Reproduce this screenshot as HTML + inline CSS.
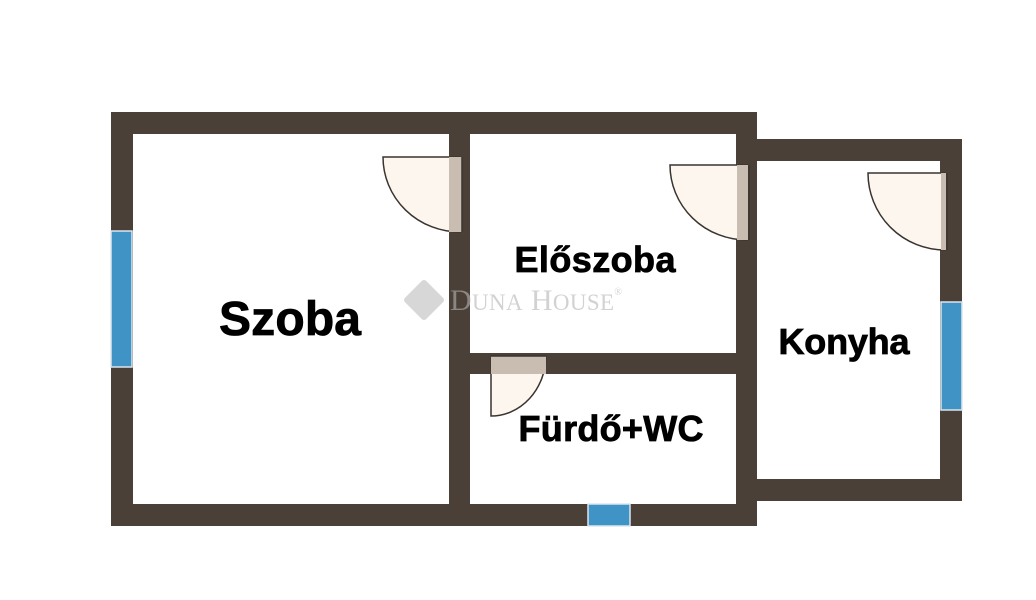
<!DOCTYPE html>
<html><head><meta charset="utf-8"><style>
html,body{margin:0;padding:0;background:#fff;width:1036px;height:600px;overflow:hidden}
svg{display:block}
.lbl{font-family:"Liberation Sans",sans-serif;font-weight:bold;fill:#000;stroke:#000;stroke-width:0.8}
</style></head><body>
<svg width="1036" height="600" viewBox="0 0 1036 600">
<rect width="1036" height="600" fill="#fff"/>
<g fill="#4b4038">
<rect x="111" y="112" width="646" height="22"/>
<rect x="111" y="112" width="22" height="414"/>
<rect x="111" y="504" width="646" height="22"/>
<rect x="449" y="112" width="21" height="414"/>
<rect x="736" y="112" width="21" height="414"/>
<rect x="449" y="353" width="308" height="21"/>
<rect x="736" y="139" width="226" height="22"/>
<rect x="940" y="139" width="22" height="362"/>
<rect x="736" y="479" width="226" height="22"/>
</g>
<g fill="#3f93c5" stroke="#dde6ee" stroke-width="1.5">
<rect x="111" y="231" width="21" height="136"/>
<rect x="941" y="302" width="21" height="108"/>
<rect x="588" y="504" width="42" height="22"/>
</g>
<g stroke="#3a3430" stroke-width="1.5">
<path d="M383 157 L460 157 L460 232 A77 75 0 0 1 383 157 Z" fill="#fdf6ee"/>
<rect x="449" y="157" width="13" height="75" fill="#c9bdb2" stroke="none"/>
<line x1="462" y1="157" x2="462" y2="232"/>
<path d="M670 165 L747 165 L747 240 A77 75 0 0 1 670 165 Z" fill="#fdf6ee"/>
<rect x="737" y="165" width="11" height="75" fill="#c9bdb2" stroke="none"/>
<line x1="749" y1="165" x2="749" y2="240"/>
<path d="M868 173 L945 173 L945 250 A77 77 0 0 1 868 173 Z" fill="#fdf6ee"/>
<rect x="941" y="173" width="5" height="77" fill="#c9bdb2" stroke="none"/>
<line x1="947" y1="173" x2="947" y2="250"/>
<path d="M491 356 L546 356 A55 61 0 0 1 491 416 Z" fill="#fdf6ee"/>
<rect x="491" y="356" width="55" height="18" fill="#c9bdb2" stroke="none"/>
<line x1="491" y1="356" x2="546" y2="356"/>
</g>
<g opacity="0.6">
<rect x="409" y="285" width="30" height="30" rx="3" transform="rotate(45 424 300)" fill="#bdbdbd"/>
<text x="450" y="310" font-family="Liberation Serif,serif" font-size="30" fill="#b5b5b5" textLength="172">D<tspan font-size="23">UNA</tspan> H<tspan font-size="23">OUSE</tspan><tspan font-size="10" dy="-15">®</tspan></text>
</g>
<text class="lbl" x="290" y="335" font-size="48" text-anchor="middle" textLength="142">Szoba</text>
<text class="lbl" x="595" y="272" font-size="36" text-anchor="middle" textLength="161">Előszoba</text>
<text class="lbl" x="844" y="354" font-size="36" text-anchor="middle" textLength="131">Konyha</text>
<text class="lbl" x="611" y="441" font-size="36" text-anchor="middle" textLength="185">Fürdő+WC</text>
</svg>
</body></html>
